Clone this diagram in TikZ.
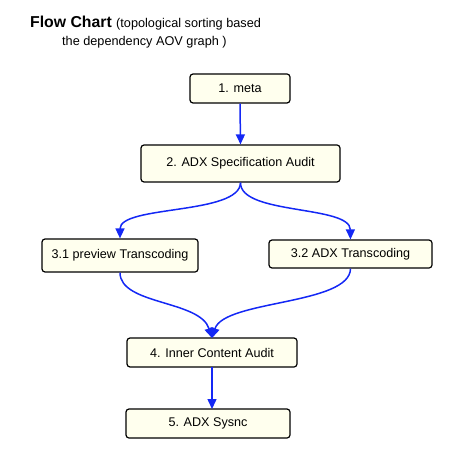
\documentclass[tikz,border=0pt]{standalone}
\usepackage{fontspec}
\setmainfont{Liberation Sans}
\usetikzlibrary{arrows.meta}
\definecolor{boxfill}{HTML}{FFFFEE}
\definecolor{linkblue}{HTML}{1428F5}
\begin{document}
\begin{tikzpicture}[x=1pt,y=-1pt,
  stepbox/.style={draw=black,line width=1.2pt,rounded corners=3pt,fill=boxfill,
    inner sep=0pt,font=\fontsize{12.6}{15}\selectfont},
  link/.style={draw=linkblue,line width=1.5pt,-{Triangle[length=10pt,width=9pt]}}]
\useasboundingbox (0,0) rectangle (452,462);
\node[anchor=base west,inner sep=0pt] (title) at (30,28)
  {\fontsize{15.8}{18}\selectfont\bfseries Flow Chart\ \fontsize{12.7}{15}\mdseries\selectfont(topological sorting based};
\node[anchor=base west,inner sep=0pt,font=\fontsize{12.7}{15}\selectfont] (sub) at (62,46) {the dependency AOV graph )};
\node[stepbox,minimum width=100pt,minimum height=29pt] (n1) at (240,88.5) {1. meta};
\node[stepbox,minimum width=199pt,minimum height=37pt] (n2) at (240.5,163.5) {2. ADX Specification Audit};
\node[stepbox,minimum width=156pt,minimum height=33pt] (n31) at (120,255.5) {3.1 preview Transcoding};
\node[stepbox,minimum width=163pt,minimum height=28pt] (n32) at (350.5,254) {3.2 ADX Transcoding};
\node[stepbox,minimum width=170pt,minimum height=29pt] (n4) at (212,352.5) {4. Inner Content Audit};
\node[stepbox,minimum width=164pt,minimum height=29pt] (n5) at (208,423.5) {5. ADX Sysnc};
\coordinate (n4top) at (212,338);
\coordinate (n5top) at (212,409);
\coordinate (n4bot) at (212,367);
\draw[link] (n1.south) -- (n2.north);
\draw[link] (n2.south) .. controls (240,215) and (120,205) .. (n31.north);
\draw[link] (n2.south) .. controls (240,215) and (350,205) .. (n32.north);
\draw[link] (n31.south) .. controls (120,305) and (200,300) .. (n4top);
\draw[link] (n32.south) .. controls (350,305) and (224,300) .. (n4top);
\draw[link] (n4bot) -- (n5top);
\end{tikzpicture}
\end{document}
